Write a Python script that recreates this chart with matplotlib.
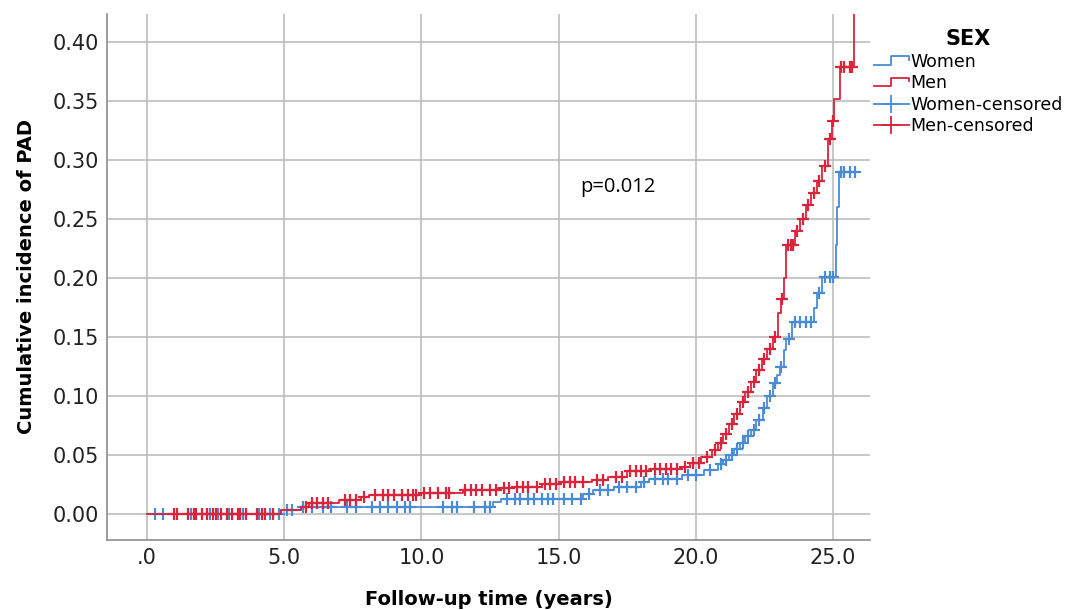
import numpy as np
import matplotlib
matplotlib.use("Agg")
import matplotlib.pyplot as plt
from matplotlib.lines import Line2D
from matplotlib.legend_handler import HandlerBase

# step curves: event time (years) -> cumulative incidence after the step
men_times = [0.0, 4.9, 5.6, 5.9, 7.0, 7.8, 8.1, 10.0, 11.5, 12.8, 13.3, 14.4, 15.0,
             16.2, 16.8, 17.5, 18.3, 19.5, 19.8, 20.2, 20.6, 20.8, 21.0, 21.2, 21.4,
             21.6, 21.8, 22.0, 22.2, 22.4, 22.6, 22.8, 23.0, 23.1, 23.2, 23.3, 23.6,
             23.8, 24.0, 24.2, 24.4, 24.6, 24.8, 24.95, 25.05, 25.25, 25.75]
men_cuminc = [0.0, 0.003, 0.006, 0.009, 0.012, 0.014, 0.016, 0.018, 0.020, 0.022, 0.023,
              0.025, 0.027, 0.029, 0.031, 0.036, 0.038, 0.040, 0.043, 0.048, 0.054,
              0.060, 0.068, 0.076, 0.085, 0.095, 0.103, 0.112, 0.122, 0.131, 0.140,
              0.150, 0.170, 0.182, 0.200, 0.228, 0.240, 0.250, 0.262, 0.272, 0.282,
              0.295, 0.318, 0.333, 0.352, 0.379, 0.60]

women_times = [0.0, 4.9, 5.6, 12.6, 12.9, 15.9, 16.25, 17.0, 18.0, 18.3, 19.5, 20.3,
               20.8, 21.0, 21.2, 21.4, 21.6, 21.8, 22.0, 22.2, 22.45, 22.6, 22.8,
               22.95, 23.05, 23.2, 23.3, 23.5, 24.3, 24.4, 24.6, 25.1, 25.15, 25.2]
women_cuminc = [0.0, 0.003, 0.006, 0.010, 0.013, 0.017, 0.020, 0.023, 0.027, 0.030,
                0.033, 0.037, 0.042, 0.046, 0.050, 0.055, 0.060, 0.066, 0.071, 0.080,
                0.090, 0.100, 0.111, 0.118, 0.125, 0.139, 0.148, 0.163, 0.175, 0.187,
                0.201, 0.228, 0.260, 0.290]

men_censored = [1.0, 1.1, 1.5, 1.7, 1.8, 2.0, 2.2, 2.4, 2.5, 2.7, 2.9, 3.1, 3.3, 3.4,
                3.6, 4.0, 4.2, 4.3, 4.6, 5.8, 6.0, 6.2, 6.4, 6.6, 7.2, 7.4, 7.6, 7.9,
                8.3, 8.6, 8.8, 9.0, 9.3, 9.5, 9.7, 9.8, 10.1, 10.3, 10.6, 10.9, 11.0,
                11.6, 11.8, 12.0, 12.2, 12.5, 12.7, 13.0, 13.2, 13.5, 13.7, 13.9, 14.2,
                14.5, 14.7, 14.9, 15.2, 15.4, 15.6, 15.9, 16.4, 16.6, 17.1, 17.3, 17.6,
                17.8, 18.0, 18.2, 18.5, 18.7, 18.9, 19.1, 19.3, 19.6, 19.9, 20.1, 20.4,
                20.7, 20.9, 21.1, 21.3, 21.5, 21.7, 21.9, 22.1, 22.3, 22.5, 22.7, 22.9,
                23.15, 23.35, 23.45, 23.55, 23.7, 23.9, 24.1, 24.3, 24.5, 24.7, 24.9,
                25.0, 25.3, 25.4, 25.6, 25.7]
women_censored = [0.3, 0.6, 1.6, 2.3, 2.6, 3.0, 3.5, 4.1, 4.5, 4.8, 5.1, 5.3, 5.7, 6.0,
                  6.4, 6.7, 7.3, 7.6, 8.2, 8.5, 8.8, 9.1, 9.4, 9.6, 10.8, 11.1, 11.3,
                  11.9, 12.3, 12.5, 13.1, 13.4, 13.6, 13.9, 14.1, 14.4, 14.6, 14.8, 15.2,
                  15.5, 15.8, 16.1, 16.5, 16.8, 17.2, 17.5, 17.8, 18.1, 18.5, 18.8, 19.0,
                  19.3, 19.7, 20.0, 20.5, 20.9, 21.1, 21.3, 21.5, 21.7, 21.9, 22.1, 22.3,
                  22.5, 22.7, 22.9, 23.1, 23.4, 23.6, 23.8, 24.0, 24.2, 24.5, 24.7, 24.9,
                  25.0, 25.3, 25.4, 25.6, 25.8]

x_ticks = [0, 5, 10, 15, 20, 25]
x_tick_labels = [".0", "5.0", "10.0", "15.0", "20.0", "25.0"]
y_ticks = [0.0, 0.05, 0.10, 0.15, 0.20, 0.25, 0.30, 0.35, 0.40]

RED = "#D9243C"
BLUE = "#4A8BD6"


def value_at(times, vals, t):
    idx = np.searchsorted(times, t, side="right") - 1
    return np.asarray(vals)[idx]


class StepHandler(HandlerBase):
    def create_artists(self, legend, orig_handle, xdescent, ydescent,
                       width, height, fontsize, trans):
        xs = np.array([0, 0.5, 0.5, 1.0, 1.0]) * width - xdescent
        ys = np.array([0.15, 0.15, 0.85, 0.85, 0.55]) * height - ydescent
        ln = Line2D(xs, ys, color=orig_handle.get_color(), lw=1.3)
        ln.set_transform(trans)
        return [ln]


fig = plt.figure(figsize=(10.69, 6.10), dpi=100)
ax = fig.add_axes([0.100, 0.115, 0.714, 0.862])

ax.step(women_times, women_cuminc, where="post", color=BLUE, lw=1.3, zorder=3)
ax.step(men_times, men_cuminc, where="post", color=RED, lw=1.3, zorder=4)
ax.plot(women_censored, value_at(women_times, women_cuminc, women_censored),
        ls="none", marker="+", ms=8, mew=1.6, color=BLUE, zorder=3)
ax.plot(men_censored, value_at(men_times, men_cuminc, men_censored),
        ls="none", marker="+", ms=8, mew=1.6, color=RED, zorder=4)

ax.text(15.8, 0.277, "p=0.012", fontsize=14.5, family="Open Sans", va="center")

ax.set_xlim(-1.46, 26.35)
ax.set_ylim(-0.022, 0.424)
ax.set_xticks(x_ticks)
ax.set_xticklabels(x_tick_labels)
ax.set_yticks(y_ticks)
ax.set_yticklabels([f"{v:.2f}" for v in y_ticks])
ax.tick_params(length=0, labelsize=15, colors="#222222", pad=6)
ax.grid(True, color="#BDBDBD", lw=1.2)
ax.set_axisbelow(True)
for s in ["top", "right"]:
    ax.spines[s].set_visible(False)
for s in ["left", "bottom"]:
    ax.spines[s].set_color("#8C8C8C")
    ax.spines[s].set_linewidth(1.2)

ax.set_xlabel("Follow-up time (years)", fontsize=14, fontweight="bold", labelpad=16)
ax.set_ylabel("Cumulative incidence of PAD", fontsize=14, fontweight="bold", labelpad=12)

handles = [Line2D([], [], color=BLUE), Line2D([], [], color=RED),
           Line2D([], [], color=BLUE, lw=1.3, marker="+", ms=13, mew=1.3),
           Line2D([], [], color=RED, lw=1.3, marker="+", ms=13, mew=1.3)]
labels = ["Women", "Men", "Women-censored", "Men-censored"]
leg = fig.legend(handles, labels, title="SEX", loc="upper left",
                 bbox_to_anchor=(0.816, 0.955), frameon=False, fontsize=12.5,
                 handlelength=2.0, handletextpad=0.1, labelspacing=0.2,
                 borderaxespad=0.0, borderpad=0.1,
                 handler_map={handles[0]: StepHandler(), handles[1]: StepHandler()})
leg.get_title().set_fontweight("bold")
leg.get_title().set_fontsize(15)

fig.savefig("out.png", dpi=100)
